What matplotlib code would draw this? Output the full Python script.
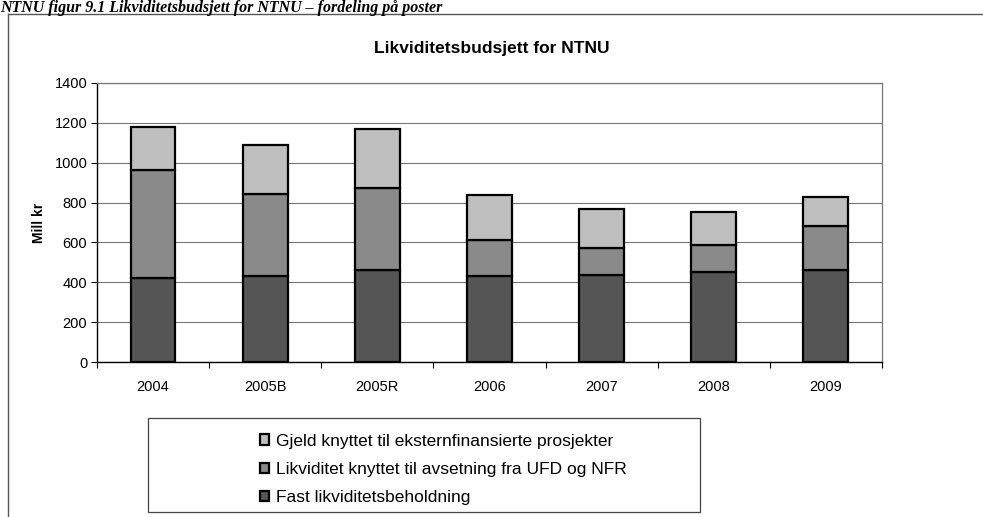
import numpy as np
import matplotlib.pyplot as plt
from matplotlib.patches import Rectangle
from matplotlib.lines import Line2D

plt.rcParams['font.family'] = ['Liberation Sans', 'DejaVu Sans']

# data (Mill kr)
years = ['2004', '2005B', '2005R', '2006', '2007', '2008', '2009']
fast = [420, 432, 464, 433, 438, 452, 460]
likviditet = [543, 410, 408, 179, 134, 133, 220]
gjeld = [217, 248, 299, 226, 198, 170, 150]

labels = ['Fast likviditetsbeholdning',
          'Likviditet knyttet til avsetning fra UFD og NFR',
          'Gjeld knyttet til eksternfinansierte prosjekter']
colors = ['#555555', '#8a8a8a', '#bfbfbf']

W, H = 983, 517
fig = plt.figure(figsize=(W / 100, H / 100), dpi=100)

# document caption above the chart frame
fig.text(0.0, 1 - 0.5 / H, 'NTNU figur 9.1 Likviditetsbudsjett for NTNU \u2013 fordeling på poster',
         family='Liberation Serif', fontweight='bold', fontstyle='italic',
         fontsize=11.5, va='top', ha='left')

# outer chart frame (continues past the right/bottom edge)
fig.add_artist(Line2D([8 / W, 8 / W], [0, 1 - 14 / H], transform=fig.transFigure,
                      color='#555555', lw=1.0))
fig.add_artist(Line2D([8 / W, 1.0], [1 - 14 / H, 1 - 14 / H], transform=fig.transFigure,
                      color='#555555', lw=1.0))

ax = fig.add_axes([97 / W, 1 - 362 / H, (882 - 97) / W, (362 - 83) / H])

x = np.arange(len(years))
bottom = np.zeros(len(years))
bars = []
for vals, lab, col in zip([fast, likviditet, gjeld], labels, colors):
    b = ax.bar(x, vals, width=0.4, bottom=bottom, color=col, edgecolor='black',
               linewidth=1.6, label=lab, zorder=3)
    bars.append(b)
    bottom = bottom + np.array(vals)

ax.set_xlim(-0.5, len(years) - 0.5)
ax.set_ylim(0, 1400)
ax.set_yticks(np.arange(0, 1401, 200))
ax.set_xticks(x)
ax.set_xticklabels(years, fontsize=10.5)
ax.tick_params(axis='y', labelsize=10.5, direction='out', length=4, width=0.8, pad=3)
ax.tick_params(axis='x', length=0, pad=13)
# category separator ticks on the x axis
ax.set_xticks(np.arange(-0.5, len(years), 1.0), minor=True)
ax.tick_params(axis='x', which='minor', direction='out', length=4, width=0.8)

ax.yaxis.grid(True, color='#777777', lw=0.8, zorder=0)
ax.set_axisbelow(True)
for side in ['top', 'right']:
    ax.spines[side].set_color('#777777')
    ax.spines[side].set_linestyle((0, (2, 1)))
    ax.spines[side].set_linewidth(0.9)
ax.spines['left'].set_linewidth(1.0)
ax.spines['bottom'].set_linewidth(1.0)

ax.set_ylabel('Mill kr', fontsize=10, fontweight='bold', labelpad=6)
fig.text(492 / W, 1 - 48 / H, 'Likviditetsbudsjett for NTNU', fontsize=12.5,
         fontweight='bold', ha='center', va='center')

# legend box
fig.add_artist(Rectangle((148 / W, 1 - 512 / H), (700 - 148) / W, (512 - 418) / H,
                         transform=fig.transFigure, fill=False, edgecolor='#444444', lw=0.9))
handles = [bars[2], bars[1], bars[0]]
fig.legend(handles, [labels[2], labels[1], labels[0]], loc='upper left',
           bbox_to_anchor=(251 / W, 1 - 425 / H), frameon=False, fontsize=12.5,
           handlelength=0.55, handleheight=0.55, handletextpad=0.4, labelspacing=0.76,
           borderpad=0)

fig.savefig('out.png', dpi=100)
